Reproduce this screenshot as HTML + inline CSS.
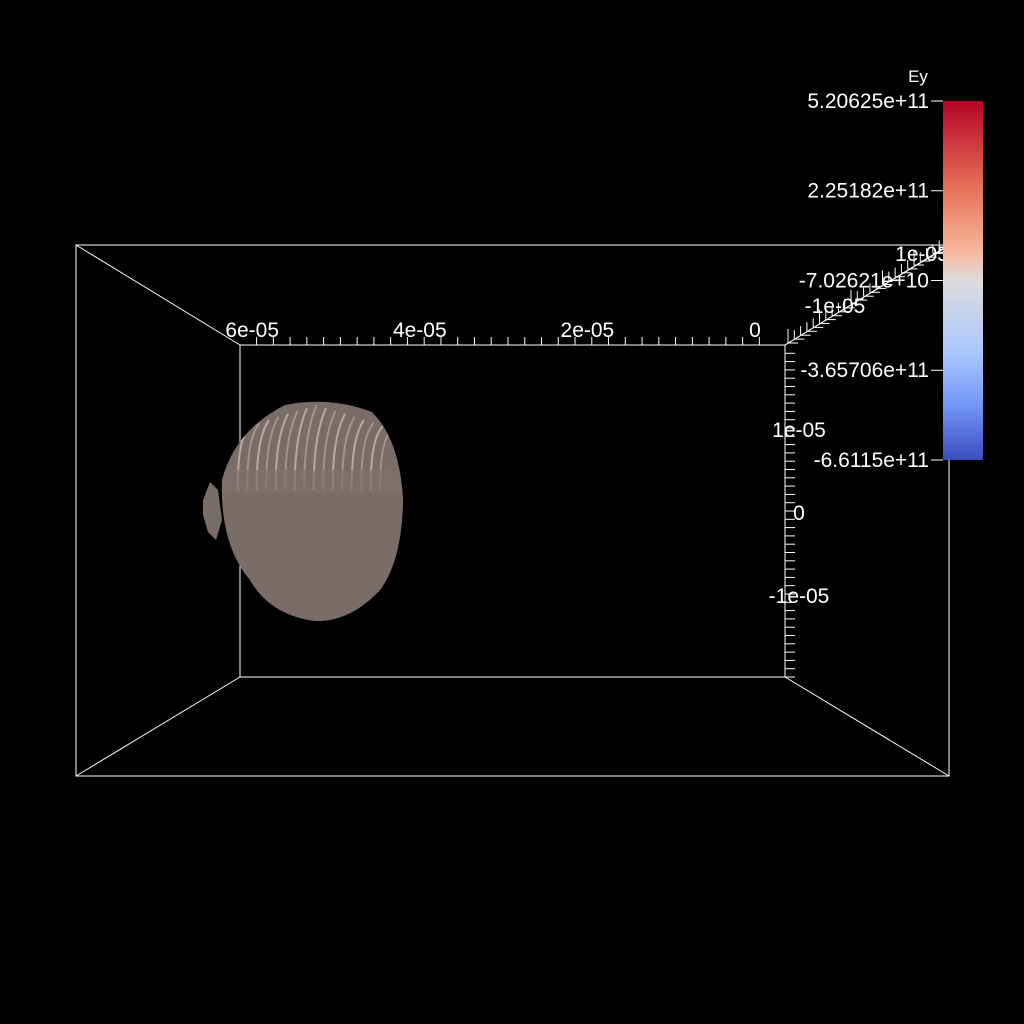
<!DOCTYPE html>
<html><head><meta charset="utf-8"><style>
html,body{margin:0;padding:0;background:#000;}
svg{display:block;font-family:"Liberation Sans",sans-serif;}
</style></head><body>
<svg id="chart" width="1024" height="1024" viewBox="0 0 1024 1024">
<defs>
<linearGradient id="cw" x1="0" y1="0" x2="0" y2="1">
<stop offset="0" stop-color="#b40426"/>
<stop offset="0.25" stop-color="#e7745b"/>
<stop offset="0.42" stop-color="#f6b89c"/>
<stop offset="0.5" stop-color="#dddcdc"/>
<stop offset="0.7" stop-color="#aac7fd"/>
<stop offset="0.85" stop-color="#7396f5"/>
<stop offset="1" stop-color="#3b4cc0"/>
</linearGradient>
<clipPath id="blobclip"><path d="M222,480 Q235,430 285,405 Q330,396 372,412 Q400,440 403,500 Q402,560 380,590 Q350,622 315,621 Q270,615 250,580 Q220,545 222,480 Z"/></clipPath>
</defs>
<g id="box" stroke="#fff" stroke-width="1" fill="none">
<rect x="76" y="245" width="873" height="531"/>
<rect x="240" y="345" width="545" height="332"/>
<line x1="76" y1="245" x2="240" y2="345"/>
<line x1="949" y1="245" x2="785" y2="345"/>
<line x1="76" y1="776" x2="240" y2="677"/>
<line x1="949" y1="776" x2="785" y2="677"/>
</g>
<g>
<path d="M203,500 L210,482 L218,490 L222,520 L216,540 L208,532 L203,515 Z" fill="#7a6c66"/>
<path d="M222,480 Q235,430 285,405 Q330,396 372,412 Q400,440 403,500 Q402,560 380,590 Q350,622 315,621 Q270,615 250,580 Q220,545 222,480 Z" fill="#7a6c66"/>
<g id="stripes" clip-path="url(#blobclip)"></g>
</g>
<g id="xaxis"></g>
<g id="yaxis"></g>
<g id="zaxis"></g>
<g id="colorbar">
<text x="918" y="82" fill="#fff" font-size="17" text-anchor="middle">Ey</text>
<rect x="943" y="101" width="40" height="359" fill="url(#cw)"/>
</g>
</svg>
<script>
const xTickValues=[6e-5,4e-5,2e-5,0];
const xTickLabels=["6e-05","4e-05","2e-05","0"];
const yTickValues=[1e-5,0,-1e-5];
const yTickLabels=["1e-05","0","-1e-05"];
const cbValues=[5.20625e11,2.25182e11,-7.02621e10,-3.65706e11,-6.6115e11];
const cbLabels=["5.20625e+11","2.25182e+11","-7.02621e+10","-3.65706e+11","-6.6115e+11"];
const NS="http://www.w3.org/2000/svg";
function mk(tag,attrs,parent){const e=document.createElementNS(NS,tag);for(const k in attrs)e.setAttribute(k,attrs[k]);parent.appendChild(e);return e;}
const xs=v=>751-v*8.38e6;
const ys=v=>511-v*8.3e6;
const cbs=v=>101+(5.20625e11-v)/(5.20625e11+6.6115e11)*359;
const xg=document.getElementById('xaxis');
mk('line',{x1:240,y1:345,x2:785,y2:345,stroke:'#fff'},xg);
for(let v=-1e-6;v<=6.5e-5;v+=2e-6){const x=xs(v);if(x<240||x>785)continue;const l=mk('line',{x1:x,y1:337,x2:x,y2:345,stroke:'#fff'},xg);}
xTickValues.forEach((v,i)=>{const t=mk('text',{x:xs(v)+4,y:337,fill:'#fff','font-size':21,'text-anchor':'middle'},xg);t.textContent=xTickLabels[i];});
const yg=document.getElementById('yaxis');
for(let v=-2e-5;v<=2e-5;v+=1e-6){const y=ys(v);if(y<345||y>677)continue;const l=mk('line',{x1:785,y1:y,x2:795,y2:y,stroke:'#fff'},yg);}
yTickValues.forEach((v,i)=>{const t=mk('text',{x:799,y:ys(v)+9,fill:'#fff','font-size':21,'text-anchor':'middle'},yg);t.textContent=yTickLabels[i];});
const zg=document.getElementById('zaxis');
mk('line',{x1:785,y1:345,x2:945,y2:248,stroke:'#fff'},zg);
for(let k=0;k<=24;k++){const x=788+k*6.3,y=343-k*3.9;mk('line',{x1:x,y1:y,x2:x,y2:y-(k%5==0?14:9),stroke:'#fff'},zg);mk('line',{x1:x,y1:y,x2:x+10,y2:y,stroke:'#fff'},zg);}
[["1e-05",922,261],["-1e-05",835,313]].forEach(a=>{const t=mk('text',{x:a[1],y:a[2],fill:'#fff','font-size':21,'text-anchor':'middle'},zg);t.textContent=a[0];});
const cg=document.getElementById('colorbar');
cbValues.forEach((v,i)=>{const y=cbs(v);mk('line',{x1:931,y1:y,x2:943,y2:y,stroke:'#fff'},cg);const t=mk('text',{x:929,y:y+7,fill:'#fff','font-size':21,'text-anchor':'end'},cg);t.textContent=cbLabels[i];});
const sg=document.getElementById('stripes');
for(let k=0;k<16;k++){const x=250+k*9.5;mk('path',{d:`M${x},${405+Math.abs(k-7)*3} Q${x-14},440 ${x-12},500`,stroke:k%2?'#b8a59b':'#d8c2b6','stroke-width':2,fill:'none',opacity:0.7},sg);}
mk('rect',{x:200,y:490,width:210,height:140,fill:'#7a6c66'},sg);
mk('rect',{x:200,y:470,width:210,height:22,fill:'#7f716b',opacity:0.7},sg);
</script>
</body></html>
